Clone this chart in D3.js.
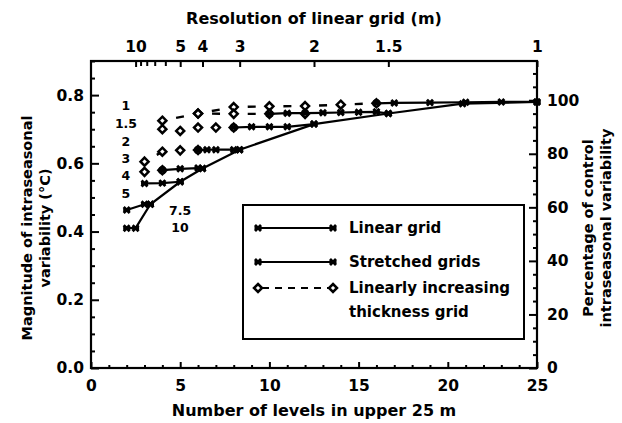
<!DOCTYPE html>
<html><head><meta charset="utf-8">
<script src="https://cdn.jsdelivr.net/npm/d3@7"></script>
<style>
body{margin:0;background:#fff}
text{font-family:"DejaVu Sans",sans-serif;font-weight:bold;fill:#000}
</style>
</head><body>
<svg id="c" width="622" height="423"></svg>
<script>
// ---------- data ----------
const levelTicks = [0,5,10,15,20,25];
const valueTicks = [0,0.2,0.4,0.6,0.8];
const pctTicks = [0,20,40,60,80,100];
const resTicks = [10,5,4,3,2,1.5,1];
const resMinor = [9,8,7,6];
const controlValue = 0.785;

const linearGrid = [[2,0.41],[2.5,0.41],[3.33,0.48],[5,0.546],[6.25,0.585],[8.33,0.64],[12.5,0.715],[16.67,0.746],[20.83,0.775],[25,0.78]];

const stretched1  = [[16,0.776],[17,0.777],[19,0.778],[21,0.779],[23,0.78],[25,0.78]];
const stretched15 = [[10,0.745],[11,0.747],[12,0.747],[13,0.748],[14,0.749],[15,0.75],[16,0.751],[16.67,0.746]];
const stretched2  = [[8,0.705],[9,0.707],[10,0.707],[11,0.707],[12.5,0.715]];
const stretched3  = [[6,0.639],[6.5,0.64],[7,0.64],[8,0.64],[8.33,0.64]];
const stretched4  = [[4,0.58],[5,0.584],[6,0.586],[6.25,0.585]];
const stretched5  = [[3,0.541],[4,0.542],[5,0.546]];
const stretched75 = [[2,0.463],[3,0.48],[3.33,0.48]];

const linInc1  = [[4,0.725],[6,0.746],[8,0.765],[10,0.767],[12,0.768],[14,0.772],[16,0.776]];
const linInc15 = [[6,0.746],[8,0.745],[10,0.745],[12,0.745]];
const linInc2  = [[4,0.70],[5,0.695],[6,0.705],[7,0.705],[8,0.705]];
const linInc3  = [[3,0.605],[4,0.634],[5,0.638],[6,0.639]];
const linInc4  = [[3,0.575],[4,0.58]];

const annotationText = ["1","1.5","2","3","4","5","7.5","10"];
const annotationX = [1.96,1.96,1.96,1.96,1.96,1.96,4.99,4.99];
const annotationY = [0.771,0.717,0.665,0.615,0.563,0.512,0.463,0.411];

const legendLabels = ["Linear grid","Stretched grids","Linearly increasing","thickness grid"];

// ---------- chart ----------
const svg = d3.select("#c");
const L=91, R=537, T=61, B=368;
const x = d3.scaleLinear().domain([0,25]).range([L,R]);
const y = d3.scaleLinear().domain([0,0.9]).range([B,T]);
const pct = d3.scaleLinear().domain([0,0.9/controlValue*100]).range([B,T]);

function styleAxis(g, size){
  g.selectAll("path.domain").remove();
  g.selectAll(".tick line").attr("stroke","#000").attr("stroke-width",2);
  g.selectAll(".tick text").style("font-size",size+"px").style("font-family","DejaVu Sans").style("font-weight","bold").attr("fill","#000");
}

// minor ticks
const minorLeft = d3.range(0,0.901,0.05).filter(v=>Math.abs(v*5-Math.round(v*5))>1e-6);
svg.append("g").attr("transform",`translate(${L},0)`).call(d3.axisLeft(y).tickValues(minorLeft).tickSize(-4).tickFormat(""))
  .call(g=>styleAxis(g,15));
svg.append("g").attr("transform",`translate(${L},0)`).call(d3.axisLeft(y).tickValues(valueTicks).tickSize(-8).tickPadding(7).tickFormat(d3.format(".1f")))
  .call(g=>styleAxis(g,15.5));

const minorRight = d3.range(0,111,5).filter(v=>v%20!==0);
svg.append("g").attr("transform",`translate(${R},0)`).call(d3.axisRight(pct).tickValues(minorRight).tickSize(-4).tickFormat(""))
  .call(g=>styleAxis(g,15));
svg.append("g").attr("transform",`translate(${R},0)`).call(d3.axisRight(pct).tickValues(pctTicks).tickSize(-8).tickPadding(10))
  .call(g=>styleAxis(g,15.5));

const minorBottom = d3.range(0,26,1).filter(v=>v%5!==0);
svg.append("g").attr("transform",`translate(0,${B})`).call(d3.axisBottom(x).tickValues(minorBottom).tickSize(-3).tickFormat(""))
  .call(g=>styleAxis(g,15));
svg.append("g").attr("transform",`translate(0,${B})`).call(d3.axisBottom(x).tickValues(levelTicks).tickSize(-6).tickPadding(12))
  .call(g=>styleAxis(g,15.5));

svg.append("g").attr("transform",`translate(0,${T})`).call(d3.axisTop(x).tickValues(resMinor.map(r=>25/r)).tickSize(-5).tickFormat(""))
  .call(g=>styleAxis(g,15));
svg.append("g").attr("transform",`translate(0,${T})`).call(d3.axisTop(x).tickValues(resTicks.map(r=>25/r)).tickSize(-6).tickPadding(9).tickFormat((d,i)=>String(resTicks[i])))
  .call(g=>styleAxis(g,15.5));

// frame
svg.append("rect").attr("x",L).attr("y",T).attr("width",R-L).attr("height",B-T)
  .attr("fill","none").attr("stroke","#000").attr("stroke-width",2.2);

// titles
svg.append("text").attr("x",314).attr("y",24).attr("text-anchor","middle").style("font-size","16px").text("Resolution of linear grid (m)");
svg.append("text").attr("x",314).attr("y",416).attr("text-anchor","middle").style("font-size","16px").text("Number of levels in upper 25 m");
svg.append("text").attr("transform","translate(27,228) rotate(-90)").attr("text-anchor","middle").attr("dominant-baseline","central").style("font-size","14.5px").text("Magnitude of intraseasonal");
svg.append("text").attr("transform","translate(45,228) rotate(-90)").attr("text-anchor","middle").attr("dominant-baseline","central").style("font-size","14.5px").text("variability (°C)");
svg.append("text").attr("transform","translate(588,228) rotate(-90)").attr("text-anchor","middle").attr("dominant-baseline","central").style("font-size","14.5px").text("Percentage of control");
svg.append("text").attr("transform","translate(606,228) rotate(-90)").attr("text-anchor","middle").attr("dominant-baseline","central").style("font-size","14.5px").text("intraseasonal variability");

// series
const solidSeries = [linearGrid, stretched1, stretched15, stretched2, stretched3, stretched4, stretched5, stretched75];
const dashedSeries = [linInc1, linInc15, linInc2, linInc3, linInc4];
const line = d3.line().x(d=>x(d[0])).y(d=>y(d[1]));
const plot = svg.append("g");

solidSeries.forEach(s=>{
  plot.append("path").attr("d",line(s)).attr("fill","none").attr("stroke","#000").attr("stroke-width",2.2);
});
dashedSeries.forEach(s=>{
  for(let i=0;i<s.length-1;i++){
    plot.append("path").attr("d",line([s[i],s[i+1]])).attr("fill","none").attr("stroke","#000")
      .attr("stroke-width",2.4).attr("stroke-dasharray","0,14,8,1000");
  }
});

const xMark = "M-3,-3L3,3M3,-3L-3,3M-3.5,0L3.5,0";
const diamond = "M0,-4L4,0L0,4L-4,0Z";
function drawX(g,px,py){
  g.append("path").attr("d",xMark).attr("transform",`translate(${px},${py})`).attr("stroke","#000").attr("stroke-width",2.8).attr("fill","none");
}
function drawD(g,px,py){
  g.append("path").attr("d",diamond).attr("transform",`translate(${px},${py})`).attr("stroke","#000").attr("stroke-width",2.5).attr("fill","#fff");
}
dashedSeries.forEach(s=>s.forEach(d=>drawD(plot,x(d[0]),y(d[1]))));
solidSeries.forEach(s=>s.forEach(d=>drawX(plot,x(d[0]),y(d[1]))));

// annotations
annotationText.forEach((t,i)=>{
  svg.append("text").attr("x",x(annotationX[i])).attr("y",y(annotationY[i])).attr("text-anchor","middle")
    .attr("dominant-baseline","central").style("font-size","12.5px").text(t);
});

// legend
const lg = svg.append("g");
lg.append("rect").attr("x",243).attr("y",205).attr("width",281).attr("height",134).attr("fill","#fff").attr("stroke","#000").attr("stroke-width",2);
const ly = [228,262,288];
[0,1].forEach(i=>{
  lg.append("line").attr("x1",258).attr("x2",333).attr("y1",ly[i]).attr("y2",ly[i]).attr("stroke","#000").attr("stroke-width",2.2);
  drawX(lg,258,ly[i]); drawX(lg,333,ly[i]);
});
lg.append("line").attr("x1",258).attr("x2",333).attr("y1",ly[2]).attr("y2",ly[2]).attr("stroke","#000").attr("stroke-width",2.2).attr("stroke-dasharray","7,6").attr("stroke-dashoffset",-4);
drawD(lg,258,ly[2]); drawD(lg,333,ly[2]);
const lty = [228,262,288,312];
legendLabels.forEach((t,i)=>{
  lg.append("text").attr("x",349).attr("y",lty[i]).attr("dominant-baseline","central").style("font-size","15px").text(t);
});
</script>
</body></html>
